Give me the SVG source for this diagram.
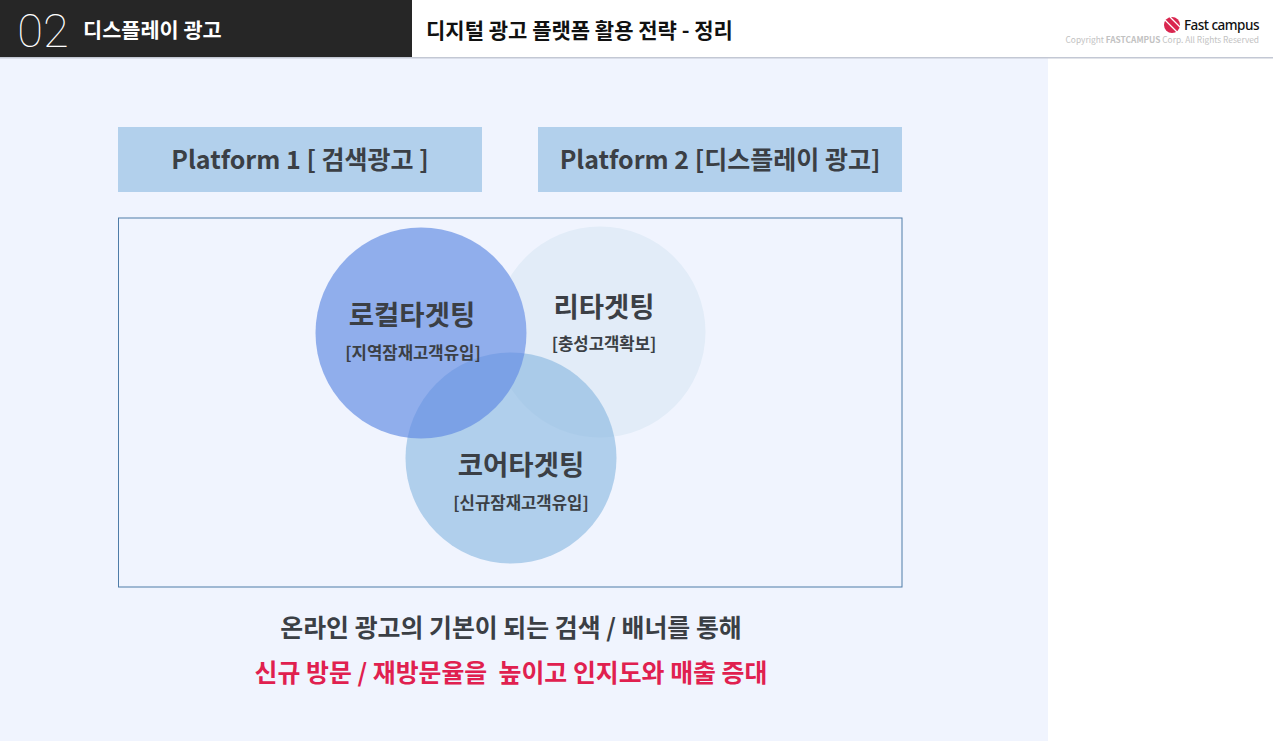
<svg xmlns="http://www.w3.org/2000/svg" width="1273" height="741" viewBox="0 0 1273 741">
<style>
text{font-family:"Noto Sans CJK KR","Noto Sans",sans-serif;fill:#3b3f45;font-weight:700;text-anchor:middle;white-space:pre}
.plat{font-size:25px}
.big{font-size:27.500px}
.sub{font-size:16.700px}
.foot{font-size:24.900px}
</style>
<defs>
<mask id="notLocal" maskUnits="userSpaceOnUse" x="0" y="0" width="1273" height="741"><rect width="1273" height="741" fill="#fff"/><circle cx="421" cy="333" r="105.500" fill="#000"/></mask>
</defs>
<rect width="1273" height="741" fill="#fff"/>
<rect x="0" y="58" width="1048" height="683" fill="#f0f4fe"/>
<rect x="0" y="0" width="412" height="57" fill="#262626"/>
<rect x="0" y="57" width="1273" height="1.500" fill="#c3c8d4"/>
<text x="43" y="46.500" style="font-family:Roboto,sans-serif;font-weight:100;font-size:47px;fill:#fff">02</text>
<text x="83" y="38" style="font-size:20.800px;fill:#fff;text-anchor:start">디스플레이 광고</text>
<text x="426" y="38" style="font-size:21px;fill:#111;text-anchor:start">디지털 광고 플랫폼 활용 전략 - 정리</text>
<g id="logo">
<circle cx="1172" cy="25" r="8" fill="#d9264f"/>
<path d="M1165 20L1177 32M1170 17L1180 27" stroke="#fff" stroke-width="1.300" fill="none"/>
<text x="1259" y="30" style="font-size:13.500px;fill:#111;text-anchor:end;font-weight:500;font-family:'Noto Sans',sans-serif;letter-spacing:-.5px">Fast campus</text>
<text x="1259" y="43" style="font-size:8.350px;fill:#c2c2c2;text-anchor:end;font-weight:400">Copyright <tspan font-weight="700">FASTCAMPUS</tspan> Corp. All Rights Reserved</text>
</g>
<g id="platform1"><rect x="118" y="127" width="364" height="65" fill="#b2d0ec"/><text class="plat" x="300" y="168.500">Platform 1 [ 검색광고 ]</text></g>
<g id="platform2"><rect x="538" y="127" width="364" height="65" fill="#b2d0ec"/><text class="plat" x="720" y="168.500">Platform 2 [디스플레이 광고]</text></g>
<rect id="frame" x="118.500" y="218" width="783.500" height="369" fill="none" stroke="#4f7ca8" stroke-width="1"/>
<g id="retarget"><circle cx="600" cy="332" r="105.500" fill="#e2ecf8" mask="url(#notLocal)"/></g>
<g id="core"><circle cx="511" cy="458" r="105.500" fill="#85b6e0" fill-opacity=".6"/></g>
<g id="local"><circle cx="421" cy="333" r="105.500" fill="#618be3" fill-opacity=".67"/></g>
<g id="labels">
<text class="big" x="412" y="325">로컬타겟팅</text>
<text class="sub" x="413" y="359">[지역잠재고객유입]</text>
<text class="big" x="604" y="317">리타겟팅</text>
<text class="sub" x="604" y="350">[충성고객확보]</text>
<text class="big" x="521" y="475">코어타겟팅</text>
<text class="sub" x="521" y="509">[신규잠재고객유입]</text>
</g>
<text class="foot" x="511" y="637">온라인 광고의 기본이 되는 검색 / 배너를 통해</text>
<text class="foot" x="511" y="682" style="fill:#e0204f">신규 방문 / 재방문율을  높이고 인지도와 매출 증대</text>
</svg>
